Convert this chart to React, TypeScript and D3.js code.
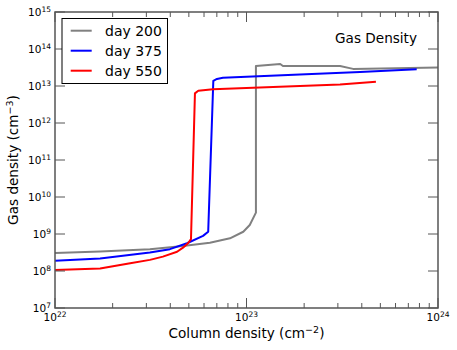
import React from 'react';
import * as d3 from 'd3';

// values (column density cm^-2, gas density cm^-3)
const day200X = [1.0e22, 1.72e22, 3.13e22, 4.66e22, 6.44e22, 8.2e22, 9.62e22, 1.04e23, 1.12e23, 1.12e23, 1.5e23, 1.55e23, 3.08e23, 3.6e23, 1.0e24];
const day200Y = [3.06e8, 3.39e8, 3.86e8, 4.74e8, 5.82e8, 7.66e8, 1.15e9, 1.75e9, 3.77e9, 3.47e13, 3.94e13, 3.47e13, 3.47e13, 2.9e13, 3.16e13];

const day375X = [1.0e22, 1.72e22, 3.13e22, 3.98e22, 4.89e22, 5.93e22, 6.31e22, 6.71e22, 7.01e22, 7.53e22, 1.9e23, 3.92e23, 7.74e23];
const day375Y = [1.9e8, 2.19e8, 3.16e8, 3.89e8, 5.62e8, 8.91e8, 1.15e9, 1.38e13, 1.55e13, 1.66e13, 2.04e13, 2.4e13, 2.82e13];

const day550X = [1.0e22, 1.72e22, 2.47e22, 3.13e22, 3.66e22, 4.34e22, 4.66e22, 4.95e22, 5.13e22, 5.38e22, 5.6e22, 6.68e22, 1.9e23, 3.08e23, 4.74e23];
const day550Y = [1.07e8, 1.17e8, 1.62e8, 2.0e8, 2.45e8, 3.31e8, 4.27e8, 5.62e8, 7.24e8, 6.31e12, 7.41e12, 8.13e12, 1.0e13, 1.1e13, 1.31e13];

const seriesNames = ['day 200', 'day 375', 'day 550'];
const seriesColors = ['#808080', '#0000ff', '#ff0000'];

const xTickExps = [22, 23, 24];
const yTickExps = [7, 8, 9, 10, 11, 12, 13, 14, 15];

const W = 457;
const H = 350;
const margin = { top: 12, right: 19, bottom: 42, left: 55 };
const FONT = '"DejaVu Sans", sans-serif';

const App = () => {
  const x = d3.scaleLog().domain([1e22, 1e24]).range([margin.left, W - margin.right]);
  const y = d3.scaleLog().domain([1e7, 1e15]).range([H - margin.bottom, margin.top]);
  const [x0, x1] = x.range();
  const [y0, y1] = y.range(); // y0 bottom, y1 top

  const line = d3.line<[number, number]>()
    .x(d => x(d[0]))
    .y(d => y(d[1]));

  const series = [
    day200X.map((v, i) => [v, day200Y[i]] as [number, number]),
    day375X.map((v, i) => [v, day375Y[i]] as [number, number]),
    day550X.map((v, i) => [v, day550Y[i]] as [number, number]),
  ];

  // minor ticks on x (2..9 per decade)
  const minorX: number[] = [];
  [22, 23].forEach(e => {
    for (let k = 2; k <= 9; k++) minorX.push(k * Math.pow(10, e));
  });

  const axisColor = '#555';

  return (
    <div style={{ position: 'fixed', left: 0, top: 0 }}>
      <svg width={W} height={H} style={{ display: 'block', background: '#fff' }} fontFamily={FONT}>
        {/* data lines */}
        <g clipPath="url(#plotClip)">
          {series.map((s, i) => (
            <path key={i} d={line(s) || ''} fill="none" stroke={seriesColors[i]}
              strokeWidth={2} strokeLinejoin="round" />
          ))}
        </g>
        <defs>
          <clipPath id="plotClip">
            <rect x={x0} y={y1} width={x1 - x0} height={y0 - y1} />
          </clipPath>
        </defs>

        {/* ticks, inside on all four sides */}
        <g stroke={axisColor} strokeWidth={1}>
          {xTickExps.map(e => {
            const px = x(Math.pow(10, e));
            return (
              <g key={'xt' + e}>
                <line x1={px} x2={px} y1={y0} y2={y0 - 10} />
                <line x1={px} x2={px} y1={y1} y2={y1 + 10} />
              </g>
            );
          })}
          {minorX.map((v, i) => {
            const px = x(v);
            return (
              <g key={'xm' + i}>
                <line x1={px} x2={px} y1={y0} y2={y0 - 5} />
                <line x1={px} x2={px} y1={y1} y2={y1 + 5} />
              </g>
            );
          })}
          {yTickExps.map(e => {
            const py = y(Math.pow(10, e));
            return (
              <g key={'yt' + e}>
                <line x1={x0} x2={x0 + 10} y1={py} y2={py} />
                <line x1={x1} x2={x1 - 10} y1={py} y2={py} />
              </g>
            );
          })}
        </g>

        {/* spines */}
        <rect x={x0} y={y1} width={x1 - x0} height={y0 - y1} fill="none" stroke={axisColor} strokeWidth={1.5} />

        {/* tick labels */}
        <g fill="#000" fontSize={10.5}>
          {xTickExps.map(e => (
            <text key={'xl' + e} x={x(Math.pow(10, e))} y={y0 + 13} textAnchor="middle">
              10<tspan fontSize={7.5} dy={-4.5}>{e}</tspan>
            </text>
          ))}
          {yTickExps.map(e => (
            <text key={'yl' + e} x={x0 - 4} y={y(Math.pow(10, e)) + 4} textAnchor="end">
              10<tspan fontSize={7.5} dy={-4.5}>{e}</tspan>
            </text>
          ))}
        </g>

        {/* axis labels */}
        <text x={(x0 + x1) / 2} y={338} textAnchor="middle" fontSize={13.6} fill="#000">
          Column density (cm<tspan fontSize={9.5} dy={-5}>−2</tspan><tspan dy={5}>)</tspan>
        </text>
        <text transform={`translate(18,${(y0 + y1) / 2}) rotate(-90)`} textAnchor="middle" fontSize={13.6} fill="#000">
          Gas density (cm<tspan fontSize={9.5} dy={-5}>−3</tspan><tspan dy={5}>)</tspan>
        </text>

        {/* title inside plot */}
        <text x={417} y={43} textAnchor="end" fontSize={13.6} fill="#000">Gas Density</text>

        {/* legend */}
        <g>
          <rect x={62} y={18.5} width={105.5} height={65} fill="#fff" stroke="#000" strokeWidth={1} />
          {seriesNames.map((name, i) => (
            <g key={name} transform={`translate(0,${30.7 + i * 20})`}>
              <line x1={70.7} x2={91.7} y1={0} y2={0} stroke={seriesColors[i]} strokeWidth={2} />
              <text x={105} y={5} fontSize={14} fill="#000">{name}</text>
            </g>
          ))}
        </g>
      </svg>
    </div>
  );
};

export default App;
